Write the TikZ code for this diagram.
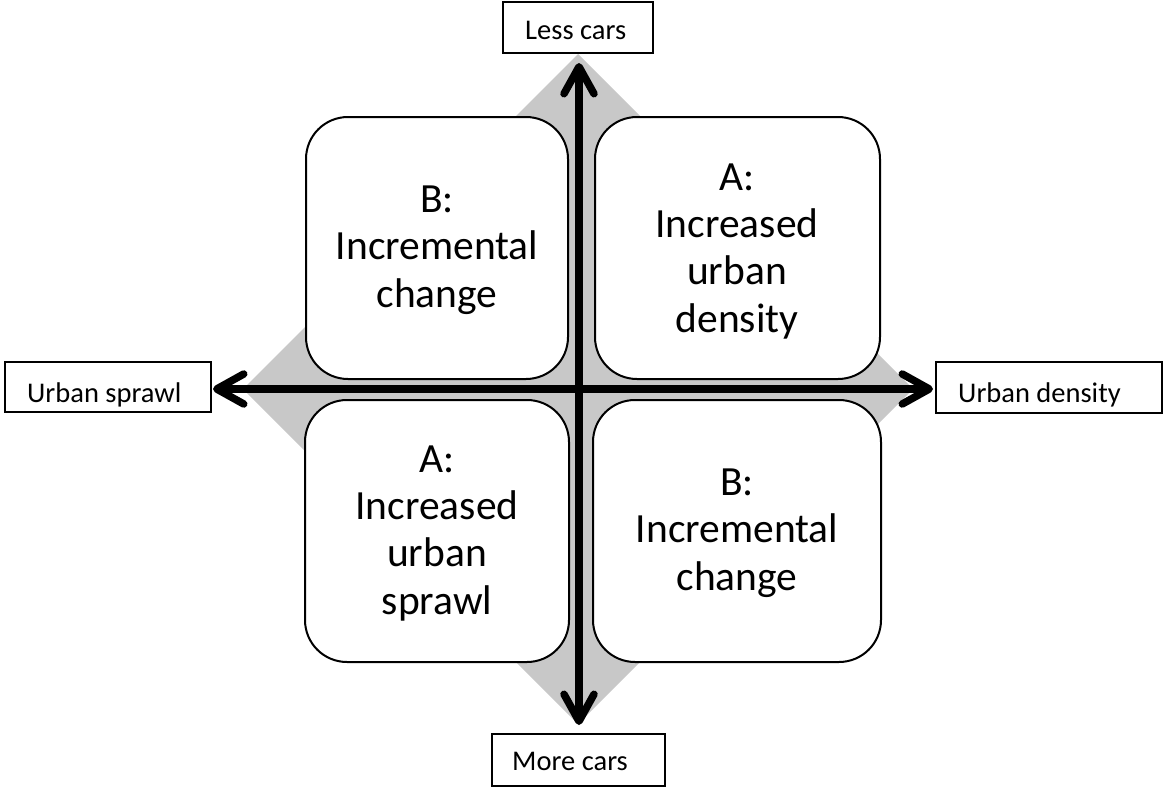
\documentclass[tikz,border=0pt]{standalone}
\usepackage{fontspec}
\setmainfont{Carlito}
\usetikzlibrary{arrows.meta}
\definecolor{diamondgrey}{RGB}{200,200,200}
\begin{document}
\begin{tikzpicture}[x=1pt,y=-1pt,
  quad/.style={draw=black, line width=2pt, fill=white, rounded corners=42pt,
    minimum height=262pt, inner sep=0pt},
  quadtext/.style={font=\fontsize{41.5}{47.3}\selectfont, align=center,
    anchor=base, inner sep=0pt},
  tag/.style={draw=black, line width=2pt, fill=white, inner sep=0pt},
  tagtext/.style={font=\fontsize{28.5}{34}\selectfont, anchor=base west,
    inner sep=0pt},
  axis/.style={line width=7.5pt,
    -{Straight Barb[length=27pt,width=30pt,round]}}
]
\useasboundingbox (0,0) rectangle (1163,787);

% grey diamond behind everything
\fill[diamondgrey] (578,54) -- (913,389) -- (578,724) -- (243,389) -- cycle;

% quadrant boxes
\node[quad, minimum width=262pt] (tl) at (437,248) {};
\node[quad, minimum width=285pt] (tr) at (737.5,248) {};
\node[quad, minimum width=264pt] (bl) at (437,531) {};
\node[quad, minimum width=288pt] (br) at (737,531) {};

% quadrant captions, placed by the baseline of their last line
\node[quadtext] (tltext) at (437,307) {B:\\Incremental\\change};
\node[quadtext] (trtext) at (737,332) {A:\\Increased\\urban\\density};
\node[quadtext] (bltext) at (437,614) {A:\\Increased\\urban\\sprawl};
\node[quadtext] (brtext) at (737,590) {B:\\Incremental\\change};

% axis end labels
\node[tag, minimum width=150pt, minimum height=51pt] (less) at (578,27.5) {};
\node[tag, minimum width=206pt, minimum height=50pt] (sprawl) at (108,387) {};
\node[tag, minimum width=226pt, minimum height=51pt] (density) at (1049,387.5) {};
\node[tag, minimum width=173pt, minimum height=52pt] (more) at (578.5,760) {};

\node[tagtext] (lesstext) at (525,39) {Less cars};
\node[tagtext] (sprawltext) at (27,402) {Urban sprawl};
\node[tagtext] (densitytext) at (958,402) {Urban density};
\node[tagtext] (moretext) at (512,770) {More cars};

% axes
\coordinate (O) at (579,389);
\draw[axis, shorten >=9pt] (O) -- (less.south -| O);
\draw[axis, shorten >=8pt] (O) -- (more.north -| O);
\draw[axis, shorten >=1pt] (O) -- (sprawl.east |- O);
\draw[axis, shorten >=2pt] (O) -- (density.west |- O);
\end{tikzpicture}
\end{document}
